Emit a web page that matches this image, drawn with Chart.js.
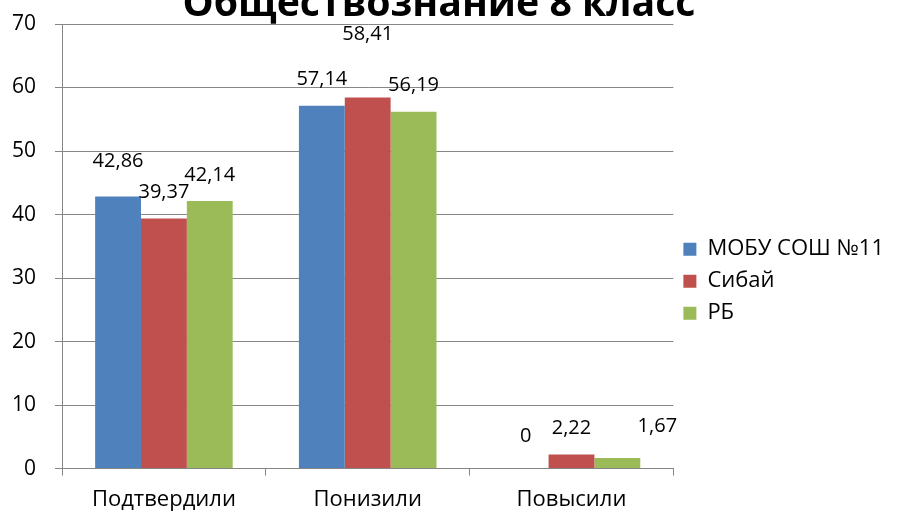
<!DOCTYPE html>
<html>
<head>
<meta charset="utf-8">
<script src="https://cdn.jsdelivr.net/npm/chart.js@4.4.1/dist/chart.umd.min.js"></script>
<style>
  html, body { margin: 0; padding: 0; background: #fff; }
  #wrap { width: 897px; height: 517px; position: relative; }
</style>
</head>
<body>
<div id="wrap"><canvas id="chart" width="897" height="517"></canvas></div>
<script>
const categories = ['Подтвердили', 'Понизили', 'Повысили'];
const seriesNames = ['МОБУ СОШ №11', 'Сибай', 'РБ'];
const school = [42.86, 57.14, 0];
const sibay = [39.37, 58.41, 2.22];
const rb = [42.14, 56.19, 1.67];
const yTicks = [0, 10, 20, 30, 40, 50, 60, 70];

const FONT = '"Open Sans", "Liberation Sans", sans-serif';
const gridColor = '#868686';

// Excel nudged a few value labels to avoid overlaps: extra lift / side shift in px
const labelLift = [[9, 0, 6], [0, 37, 0], [0, 0, 6]];
const labelShift = [[0, 0, 0], [0, 0, 0], [0, 0, 40]];

// title is partly cut off at the top edge in the original
const titlePlugin = {
    id: 'clippedTitle',
    afterDraw(chart) {
        const c = chart.ctx;
        const text = 'Обществознание 8 класс';
        c.save();
        c.font = 'bold 100px ' + FONT;
        const size = 100 * 513 / c.measureText(text).width;
        c.font = 'bold ' + size.toFixed(1) + 'px ' + FONT;
        c.fillStyle = '#000';
        c.textAlign = 'center';
        c.textBaseline = 'alphabetic';
        c.fillText(text, 439, 16);
        c.restore();
    }
};

const valueLabels = {
    id: 'valueLabels',
    afterDatasetsDraw(chart) {
        const c = chart.ctx;
        c.save();
        c.font = '20px ' + FONT;
        c.fillStyle = '#000';
        c.textAlign = 'center';
        c.textBaseline = 'middle';
        chart.data.datasets.forEach((ds, di) => {
            chart.getDatasetMeta(di).data.forEach((bar, i) => {
                const txt = String(ds.data[i]).replace('.', ',');
                c.fillText(txt, bar.x + labelShift[di][i], bar.y - 26 - labelLift[di][i]);
            });
        });
        c.restore();
    }
};

const ctx = document.getElementById('chart').getContext('2d');
const chart = new Chart(ctx, {
    type: 'bar',
    data: {
        labels: categories,
        datasets: [
            { label: seriesNames[0], data: school, backgroundColor: '#4F81BD' },
            { label: seriesNames[1], data: sibay, backgroundColor: '#C0504D' },
            { label: seriesNames[2], data: rb, backgroundColor: '#9BBB59' }
        ]
    },
    options: {
        responsive: false,
        animation: false,
        layout: { padding: { top: 24, right: 3, bottom: -7, left: -7 } },
        datasets: { bar: { barPercentage: 1, categoryPercentage: 0.675 } },
        plugins: {
            legend: {
                position: 'right',
                title: { display: true, text: '', padding: 0, font: { size: 12 } },
                labels: {
                    boxWidth: 13,
                    boxHeight: 13,
                    padding: 10,
                    color: '#000',
                    font: { family: FONT, size: 22 }
                }
            },
            tooltip: { enabled: false }
        },
        scales: {
            x: {
                grid: { offset: true, drawOnChartArea: false, tickLength: 7, color: gridColor },
                border: { color: gridColor },
                ticks: { color: '#000', padding: 11, font: { family: FONT, size: 22 } }
            },
            y: {
                min: 0,
                max: 70,
                afterBuildTicks(axis) { axis.ticks = yTicks.map(v => ({ value: v })); },
                afterFit(axis) { axis.paddingTop = 0; },
                grid: { color: gridColor, tickLength: 7 },
                border: { color: gridColor },
                ticks: { color: '#000', padding: 19, font: { family: FONT, size: 21 } }
            }
        }
    },
    plugins: [valueLabels, titlePlugin]
});
</script>
</body>
</html>
